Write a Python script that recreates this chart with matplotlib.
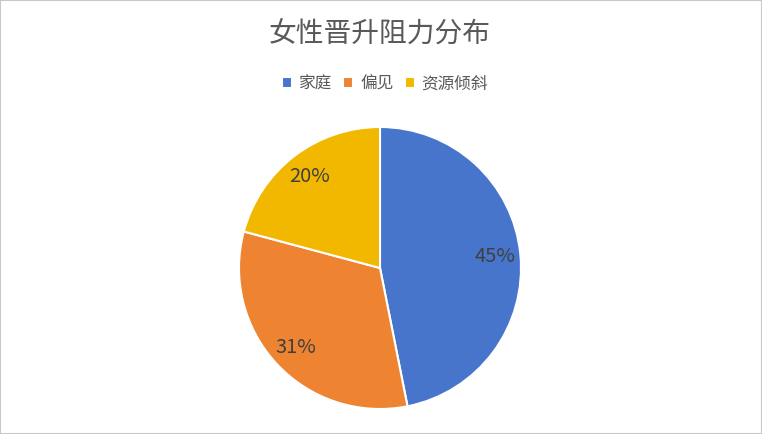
import matplotlib.pyplot as plt
from matplotlib.patches import Rectangle

plt.rcParams['font.family'] = ['Noto Sans CJK SC', 'DejaVu Sans']

categories = ['家庭', '偏见', '资源倾斜']
values = [45, 31, 20]
colors = ['#4775CB', '#EE8431', '#F2B800']

fig = plt.figure(figsize=(7.62, 4.34), dpi=100)
fig.patches.append(Rectangle((0, 0), 1, 1, transform=fig.transFigure,
                             fill=False, edgecolor='#C8C8C8', linewidth=1.5))

# pie centre (380, 268) px, radius ~141 px
ax = fig.add_axes([(380 - 141) / 762, (434 - 268 - 141) / 434, 282 / 762, 282 / 434])
wedges, texts, autotexts = ax.pie(
    values, colors=colors, startangle=90, counterclock=False,
    autopct=lambda p: '', pctdistance=0.82, radius=1.0,
    wedgeprops=dict(edgecolor='white', linewidth=1.5))
for at, v in zip(autotexts, values):
    at.set_text('%d%%' % v)
    at.set_color('#404040')
    at.set_fontsize(14.5)
ax.set_xlim(-1, 1)
ax.set_ylim(-1, 1)
ax.set_aspect('equal')

fig.text(380 / 762, 1 - 35 / 434, '女性晋升阻力分布', ha='center', va='center',
         fontsize=20, color='#595959')

fig.legend(wedges, categories, loc='center', bbox_to_anchor=(385 / 762, 1 - 84 / 434),
           ncol=3, frameon=False, fontsize=12, handlelength=0.6, handleheight=0.6,
           handletextpad=0.4, columnspacing=0.7, labelcolor='#595959')

plt.savefig('out.png', dpi=100)
